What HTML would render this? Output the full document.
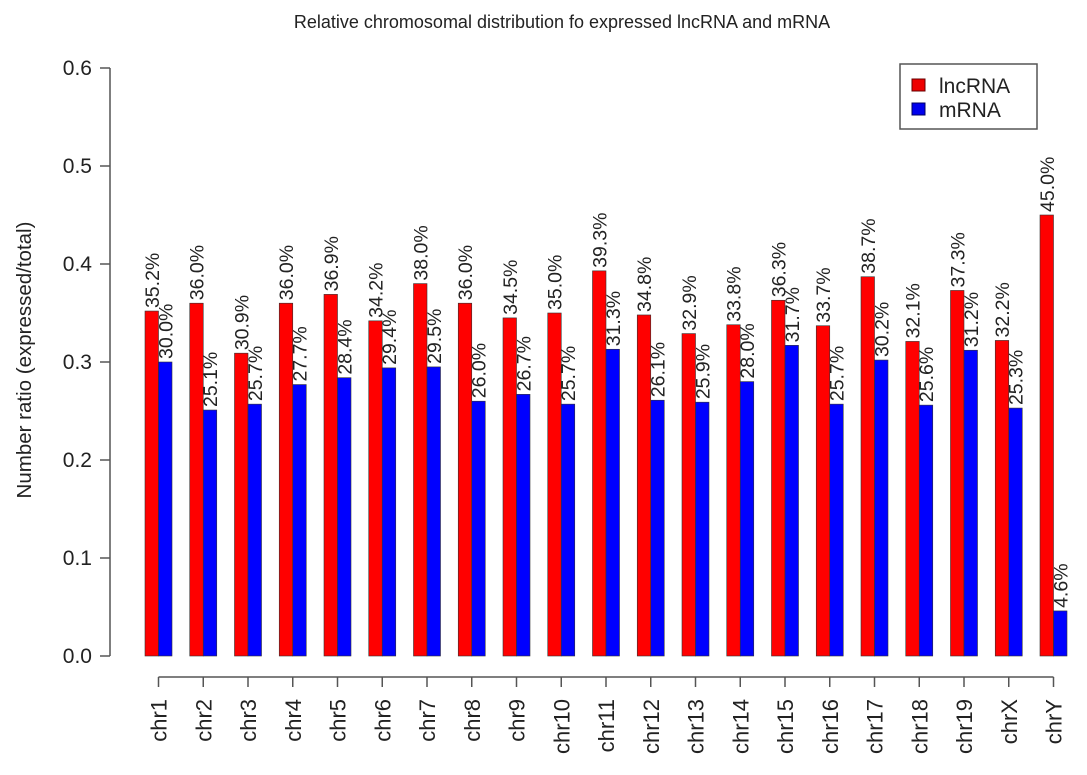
<!DOCTYPE html>
<html><head><meta charset="utf-8"><style>
body{margin:0;background:#fff}
svg{display:block;font-family:"Liberation Sans",Arial,sans-serif}
</style></head><body>
<svg id="chart" width="1087" height="775" xmlns="http://www.w3.org/2000/svg">
<text x="562" y="28" text-anchor="middle" font-size="18" fill="#222">Relative chromosomal distribution fo expressed lncRNA and mRNA</text>
<text transform="translate(31,360) rotate(-90)" text-anchor="middle" font-size="20.5" fill="#222">Number ratio (expressed/total)</text>
<g id="axes"></g>
<g id="bars"></g>
<g>
<rect x="900" y="64" width="137" height="65" fill="#fff" stroke="#555" stroke-width="1.5"/>
<rect x="912" y="79" width="13" height="12" fill="#e00" stroke="#600"/>
<text x="939" y="93" font-size="21" fill="#222">lncRNA</text>
<rect x="912" y="103" width="13" height="12" fill="#00e" stroke="#006"/>
<text x="939" y="117" font-size="21" fill="#222">mRNA</text>
</g>
</svg>
<script>
const categories=["chr1","chr2","chr3","chr4","chr5","chr6","chr7","chr8","chr9","chr10","chr11","chr12","chr13","chr14","chr15","chr16","chr17","chr18","chr19","chrX","chrY"];
const lncRNA=[0.352,0.360,0.309,0.360,0.369,0.342,0.380,0.360,0.345,0.350,0.393,0.348,0.329,0.338,0.363,0.337,0.387,0.321,0.373,0.322,0.450];
const mRNA=[0.300,0.251,0.257,0.277,0.284,0.294,0.295,0.260,0.267,0.257,0.313,0.261,0.259,0.280,0.317,0.257,0.302,0.256,0.312,0.253,0.046];
const yTicks=["0.0","0.1","0.2","0.3","0.4","0.5","0.6"];
const NS="http://www.w3.org/2000/svg";
const y0=656,y1=68,ymax=0.6;
function yScale(v){return y0-(v/ymax)*(y0-y1);}
function xGroup(i){return 145+i*44.75;}
const bw=13.5;
const axes=document.getElementById('axes'),bars=document.getElementById('bars');
function mk(tag,attrs,parent){const e=document.createElementNS(NS,tag);for(const k in attrs)e.setAttribute(k,attrs[k]);parent.appendChild(e);return e;}
let yl=mk('line',{x1:110,x2:110,y1:yScale(0),y2:yScale(0.6),stroke:'#555','stroke-width':1.5},axes);


yTicks.forEach(t=>{const y=yScale(parseFloat(t));
 const l=mk('line',{x1:100,x2:110,y1:y,y2:y,stroke:'#555','stroke-width':1.5},axes);
 
 
 const tx=mk('text',{x:92,y:y+7,'text-anchor':'end','font-size':21,fill:'#222'},axes);tx.textContent=t;
 
 
});
const c0=xGroup(0)+bw,cN=xGroup(categories.length-1)+bw;
let xl=mk('line',{x1:c0,x2:cN,y1:677,y2:677,stroke:'#555','stroke-width':1.5},axes);


categories.forEach((c,i)=>{
 const cx=xGroup(i)+bw;
 const t=mk('line',{x1:cx,x2:cx,y1:677,y2:687,stroke:'#555','stroke-width':1.5},axes);
 
 
 const tx=mk('text',{transform:`translate(${cx+8},699) rotate(-90)`,'text-anchor':'end','font-size':22,fill:'#222'},axes);tx.textContent=c;
 
 
 [[lncRNA,'#f00','lncrna',0],[mRNA,'#00f','mrna',bw]].forEach(([arr,col,nm,off])=>{
  const v=arr[i],x=xGroup(i)+off,y=yScale(v);
  const r=mk('rect',{x:x,y:y,width:bw,height:y0-y,fill:col,stroke:'#333','stroke-width':0.6},bars);
  
  
  const lb=mk('text',{transform:`translate(${x+bw/2+7},${y-3}) rotate(-90)`,'font-size':19.5,fill:'#222'},bars);
  lb.textContent=(v*100).toFixed(1)+'%';
  
  
 });
});
</script>
</body></html>
